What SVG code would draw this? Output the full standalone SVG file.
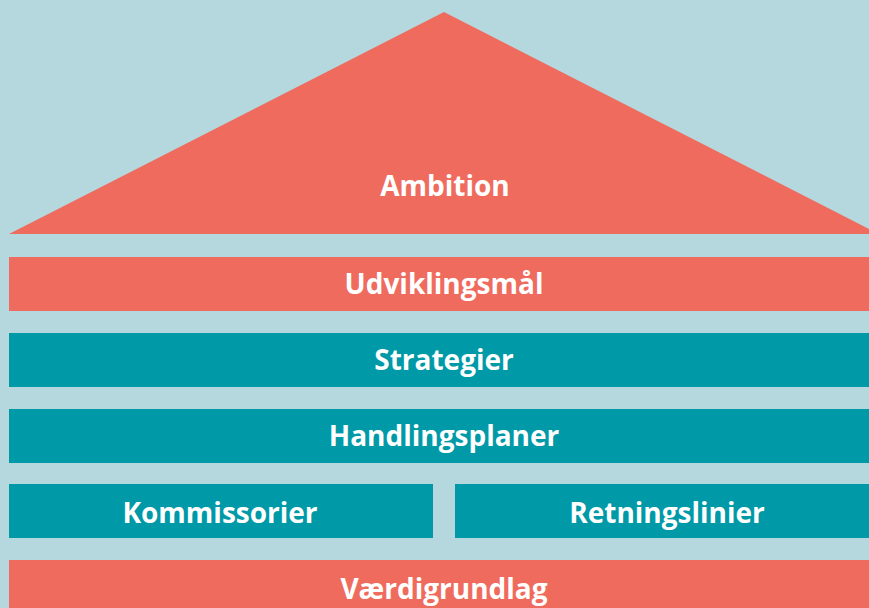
<svg xmlns="http://www.w3.org/2000/svg" width="869" height="608" viewBox="0 0 869 608">
<style>
.red{fill:#ef6b5e}
.teal{fill:#0099a7}
text{font-family:"Open Sans","Noto Sans","Liberation Sans",sans-serif;font-weight:bold;font-size:28px;fill:#ffffff;text-anchor:middle}
</style>
<rect width="869" height="608" fill="#b4d8de"/>
<g id="ambition"><polygon class="red" points="444,12 879,234 9,234"/><text x="445" y="196">Ambition</text></g>
<g id="udviklingsmaal"><rect class="red" x="9" y="257" width="870" height="54"/><text x="444" y="294">Udviklingsmål</text></g>
<g id="strategier"><rect class="teal" x="9" y="333" width="870" height="54"/><text x="444" y="370">Strategier</text></g>
<g id="handlingsplaner"><rect class="teal" x="9" y="409" width="870" height="54"/><text x="444" y="446">Handlingsplaner</text></g>
<g id="kommissorier"><rect class="teal" x="9" y="484" width="424" height="54"/><text x="220" y="523">Kommissorier</text></g>
<g id="retningslinier"><rect class="teal" x="455" y="484" width="424" height="54"/><text x="667" y="523">Retningslinier</text></g>
<g id="vaerdigrundlag"><rect class="red" x="9" y="560" width="870" height="54"/><text x="444" y="599">Værdigrundlag</text></g>
<g id="connectors"/>
</svg>
